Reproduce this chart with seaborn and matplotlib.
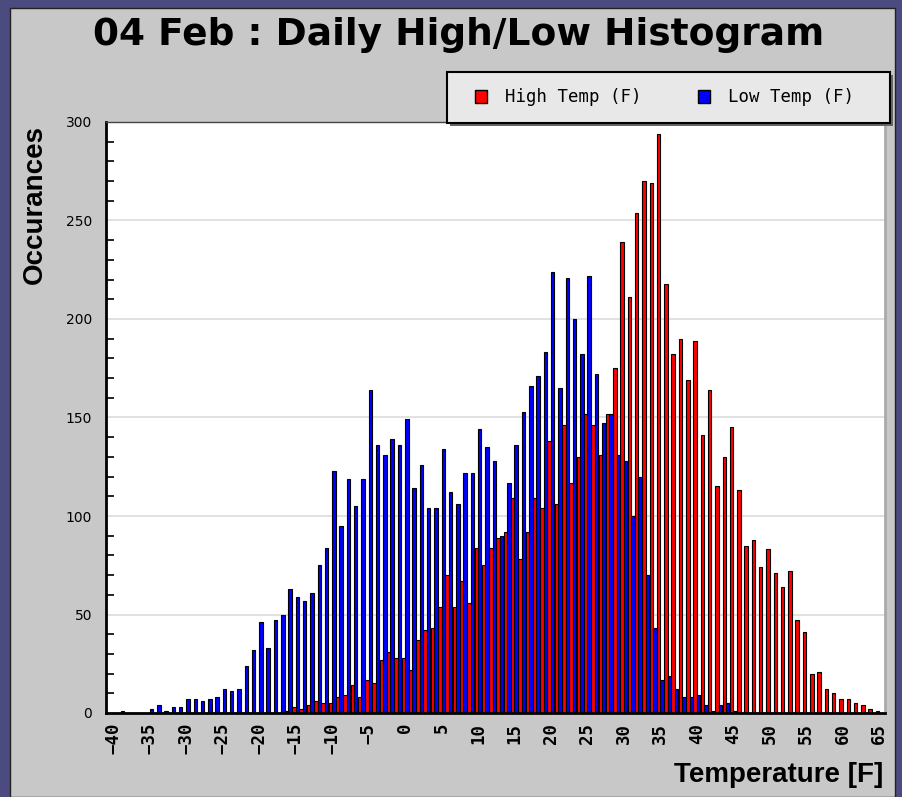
import numpy as np
import pandas as pd
import matplotlib.pyplot as plt
import seaborn as sns
from matplotlib.patches import Patch, Rectangle
from matplotlib.ticker import MultipleLocator

# Datos: conteo de dias por temperatura (F), -40 a 65
temps = list(range(-40, 66))

high_temp = [0, 0, 0, 0, 0, 0, 0, 0, 0, 0,          # -40 .. -31
             0, 0, 0, 0, 0, 0, 0, 0, 0, 0,          # -30 .. -21
             0, 0, 0, 0, 1, 3, 2, 4, 6, 5,          # -20 .. -11
             5, 8, 9, 14, 8, 17, 15, 27, 31, 28,    # -10 .. -1
             28, 22, 37, 42, 43, 54, 70, 54, 67, 56,   # 0 .. 9
             84, 75, 84, 89, 92, 109, 78, 92, 109, 104,  # 10 .. 19
             138, 106, 146, 117, 130, 152, 146, 131, 152, 175,  # 20 .. 29
             239, 211, 254, 270, 269, 294, 218, 182, 190, 169,  # 30 .. 39
             189, 141, 164, 115, 130, 145, 113, 85, 88, 74,     # 40 .. 49
             83, 71, 64, 72, 47, 41, 20, 21, 12, 10,            # 50 .. 59
             7, 7, 5, 4, 2, 1]                                   # 60 .. 65

low_temp = [0, 1, 0, 0, 0, 2, 4, 1, 3, 3,           # -40 .. -31
            7, 7, 6, 7, 8, 12, 11, 12, 24, 32,      # -30 .. -21
            46, 33, 47, 50, 63, 59, 57, 61, 75, 84,  # -20 .. -11
            123, 95, 119, 105, 119, 164, 136, 131, 139, 136,  # -10 .. -1
            149, 114, 126, 104, 104, 134, 112, 106, 122, 122,  # 0 .. 9
            144, 135, 128, 90, 117, 136, 153, 166, 171, 183,   # 10 .. 19
            224, 165, 221, 200, 182, 222, 172, 147, 152, 131,  # 20 .. 29
            128, 100, 120, 70, 43, 17, 19, 12, 8, 8,           # 30 .. 39
            9, 4, 1, 4, 5, 1, 0, 0, 0, 0,                      # 40 .. 49
            0, 0, 0, 0, 0, 0, 0, 0, 0, 0,                      # 50 .. 59
            0, 0, 0, 0, 0, 0]                                  # 60 .. 65

series_names = ['High Temp (F)', 'Low Temp (F)']
colores = ['#ff0000', '#0000ff']

df = pd.DataFrame({
    'temp': temps * 2,
    'count': high_temp + low_temp,
    'serie': [series_names[0]] * len(temps) + [series_names[1]] * len(temps),
})

sns.set_style('white')
plt.rcParams['text.color'] = 'black'
plt.rcParams['xtick.color'] = 'black'
plt.rcParams['ytick.color'] = 'black'

W, H = 903, 797
fig = plt.figure(figsize=(W / 100, H / 100), dpi=100, facecolor='#4b4b80')
# panel gris
fig.patches.append(Rectangle((10 / W, 0), 885 / W, 789 / H, transform=fig.transFigure,
                             facecolor='#c8c8c8', edgecolor='#222222', lw=1, zorder=-5))

ax = fig.add_axes([106 / W, 84 / H, 779 / W, 591 / H])
ax.set_facecolor('white')

sns.barplot(data=df, x='temp', y='count', hue='serie', order=temps, hue_order=series_names,
            palette=colores, saturation=1, width=0.95, edgecolor='black', linewidth=0.8,
            legend=False, ax=ax)

# Ejes
pos = [i for i, t in enumerate(temps) if t % 5 == 0]
etiquetas = [str(t).replace('-', '\u2212') for t in temps if t % 5 == 0]
ax.set_xticks(pos, etiquetas, rotation=90, fontfamily='DejaVu Sans Mono',
              fontweight='bold', fontsize=12.5)
ax.set_xlim(-1.0, 105.8)
ax.tick_params(axis='x', direction='in', length=9, width=1.5, pad=7)

ax.set_ylim(0, 300)
ax.yaxis.set_major_locator(MultipleLocator(50))
ax.yaxis.set_minor_locator(MultipleLocator(10))
ax.tick_params(axis='y', which='major', direction='in', length=10, width=1.2, labelsize=10, pad=10)
ax.tick_params(axis='y', which='minor', direction='in', length=6, width=1.2, left=True)
ax.yaxis.grid(True, color='#dcdcdc', lw=1.2)
ax.set_axisbelow(True)

for s in ['left', 'bottom']:
    ax.spines[s].set_color('black')
    ax.spines[s].set_linewidth(2)
ax.spines['top'].set_color('#444444')
ax.spines['top'].set_linewidth(1)
ax.spines['right'].set_color('#aaaaaa')
ax.spines['right'].set_linewidth(2)

ax.set_xlabel('')
ax.set_ylabel('')

# Textos
fig.text(459 / W, 1 - 35 / H, '04 Feb : Daily High/Low Histogram', ha='center', va='center',
         fontsize=27, fontweight='bold', family='DejaVu Sans')
fig.text(35 / W, 1 - 205 / H, 'Occurances', rotation=90, ha='center', va='center',
         fontsize=20, fontweight='bold', family='Liberation Sans')
fig.text(883 / W, 1 - 775 / H, 'Temperature [F]', ha='right', va='center',
         fontsize=20, fontweight='bold', family='Liberation Sans')

# Leyenda: caja dibujada a mano, leyenda sin marco dentro
fig.patches.append(Rectangle((450 / W, 1 - 126 / H), 443 / W, 51 / H, transform=fig.transFigure,
                             facecolor='#666666', edgecolor='none', zorder=3))
fig.patches.append(Rectangle((447 / W, 1 - 123 / H), 443 / W, 51 / H, transform=fig.transFigure,
                             facecolor='#e8e8e8', edgecolor='black', lw=1.5, zorder=4))
handles = [Patch(facecolor=c, edgecolor='black', label=n) for c, n in zip(colores, series_names)]
leg = fig.legend(handles=handles, loc='center left', bbox_to_anchor=(475 / W, 1 - 97.5 / H), ncol=2,
                 frameon=False, prop={'family': 'DejaVu Sans Mono', 'size': 12.5},
                 handlelength=0.7, handleheight=0.7, handletextpad=1.0, columnspacing=3.3,
                 borderpad=0, borderaxespad=0)
leg.set_zorder(5)

plt.savefig('out.png', dpi=100, facecolor=fig.get_facecolor())
